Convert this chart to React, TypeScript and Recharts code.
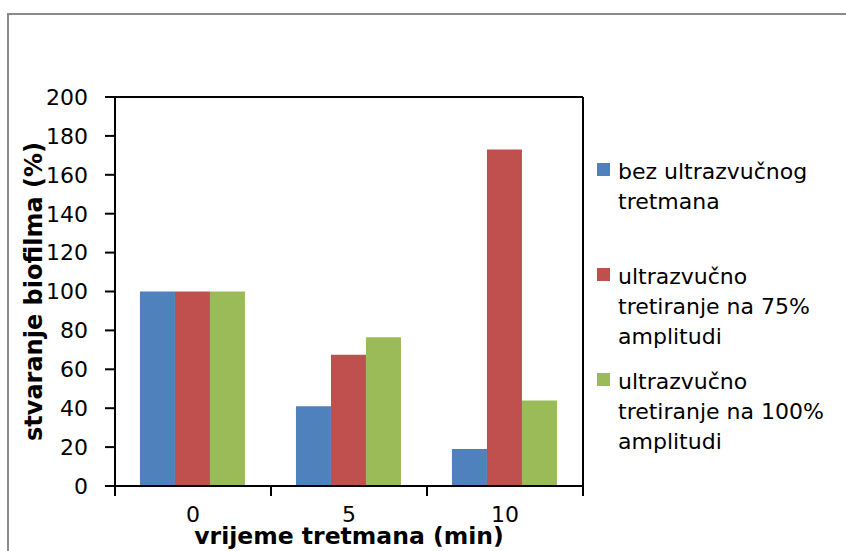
import React from 'react'
import { BarChart, Bar, XAxis, YAxis, Legend } from 'recharts'

// vrijeme tretmana (min)
const categories = ['0', '5', '10']
const bezTretmana = [100, 41, 19]
const amplituda75 = [100, 67.5, 173]
const amplituda100 = [100, 76.5, 44]

const yTicks = [0, 20, 40, 60, 80, 100, 120, 140, 160, 180, 200]

const seriesNames = [
  'bez ultrazvučnog tretmana',
  'ultrazvučno tretiranje na 75% amplitudi',
  'ultrazvučno tretiranje na 100% amplitudi',
]
const legendLines = [
  ['bez ultrazvučnog', 'tretmana'],
  ['ultrazvučno', 'tretiranje na 75%', 'amplitudi'],
  ['ultrazvučno', 'tretiranje na 100%', 'amplitudi'],
]
const colors = ['#4F81BD', '#C0504D', '#9BBB59']

const data = categories.map((c, i) => ({
  vrijeme: c,
  bez: bezTretmana[i],
  a75: amplituda75[i],
  a100: amplituda100[i],
}))

const FONT = '"DejaVu Sans", Verdana, sans-serif'
const TICK_MARGIN = 20
const legendTops = [0, 105, 210]

// category label in the middle, tick marks on the band edges (like Excel)
function CategoryTick(props: any) {
  const { x, y, payload, index, visibleTicksCount } = props
  const half = payload.offset ?? 0
  const axisY = y - TICK_MARGIN
  return (
    <g>
      <line x1={x - half} x2={x - half} y1={axisY} y2={axisY + 10} stroke="#000" strokeWidth={2} />
      {index === visibleTicksCount - 1 && (
        <line x1={x + half} x2={x + half} y1={axisY} y2={axisY + 10} stroke="#000" strokeWidth={2} />
      )}
      <text x={x} y={y} dy="0.71em" textAnchor="middle" fill="#000" fontSize={22}>
        {payload.value}
      </text>
    </g>
  )
}

function renderLegend() {
  return (
    <div style={{ position: 'relative', width: 240, height: 300, fontFamily: FONT, fontSize: 22, color: '#000' }}>
      {legendLines.map((lines, i) => (
        <div key={i} style={{ position: 'absolute', left: 0, top: legendTops[i], display: 'flex', alignItems: 'flex-start' }}>
          <div style={{ width: 13, height: 13, background: colors[i], marginTop: 6, marginRight: 8, flexShrink: 0 }} />
          <div style={{ lineHeight: '30px', whiteSpace: 'nowrap' }}>
            {lines.map((l, j) => (
              <div key={j}>{l}</div>
            ))}
          </div>
        </div>
      ))}
    </div>
  )
}

export default function App() {
  return (
    <div style={{ position: 'fixed', left: 0, top: 0, width: 846, height: 551, overflow: 'hidden', background: '#fff' }}>
      <div style={{ position: 'absolute', left: 7, top: 13, width: 900, height: 600, borderLeft: '2px solid #8a8a8a', borderTop: '2px solid #8a8a8a' }} />
      <div style={{ position: 'absolute', left: 0, top: 0 }}>
        <BarChart
          width={846}
          height={551}
          data={data}
          margin={{ top: 96, right: 262, bottom: 64, left: 55 }}
          barCategoryGap="16%"
          barGap={0}
          style={{ fontFamily: FONT }}
        >
          <XAxis
            dataKey="vrijeme"
            height={1}
            tickSize={0}
            tickLine={false}
            tickMargin={TICK_MARGIN}
            interval={0}
            axisLine={{ stroke: '#000', strokeWidth: 2 }}
            tick={<CategoryTick />}
            label={{ value: 'vrijeme tretmana (min)', position: 'bottom', offset: 40, fill: '#000', fontSize: 23.5, fontWeight: 'bold' }}
          />
          <XAxis xAxisId="top" dataKey="vrijeme" orientation="top" height={1} tick={false} tickLine={false} axisLine={{ stroke: '#000', strokeWidth: 2 }} />
          <YAxis
            width={60}
            domain={[0, 200]}
            ticks={yTicks}
            interval={0}
            tickSize={10}
            tickMargin={17}
            axisLine={{ stroke: '#000', strokeWidth: 2 }}
            tickLine={{ stroke: '#000', strokeWidth: 2 }}
            tick={{ fill: '#000', fontSize: 22 }}
            label={{ value: 'stvaranje biofilma (%)', angle: -90, position: 'center', dx: -52, fill: '#000', fontSize: 24, fontWeight: 'bold' }}
          />
          <YAxis yAxisId="right" orientation="right" width={1} domain={[0, 200]} tick={false} tickLine={false} axisLine={{ stroke: '#000', strokeWidth: 2 }} />
          <Legend
            layout="horizontal"
            verticalAlign="middle"
            align="center"
            content={renderLegend}
            wrapperStyle={{ position: 'absolute', left: 597, top: 157, width: 240, height: 300 }}
          />
          <Bar dataKey="bez" name={seriesNames[0]} fill={colors[0]} isAnimationActive={false} />
          <Bar dataKey="a75" name={seriesNames[1]} fill={colors[1]} isAnimationActive={false} />
          <Bar dataKey="a100" name={seriesNames[2]} fill={colors[2]} isAnimationActive={false} />
        </BarChart>
      </div>
    </div>
  )
}
